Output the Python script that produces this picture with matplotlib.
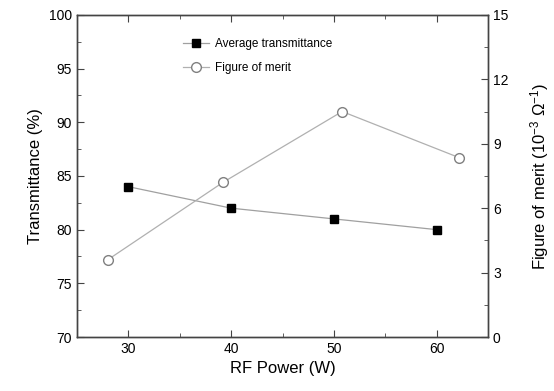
import matplotlib
matplotlib.use('Agg')
import matplotlib.pyplot as plt
from matplotlib.ticker import MultipleLocator

plt.rcParams['font.family'] = ['Liberation Sans', 'DejaVu Sans']
plt.rcParams['mathtext.fontset'] = 'custom'
plt.rcParams['mathtext.rm'] = 'Liberation Sans'
plt.rcParams['mathtext.it'] = 'Liberation Sans:italic'

# data
power_t = [30, 40, 50, 60]
transmittance = [84, 82, 81, 80]
power_f = [28, 39.2, 50.8, 62.2]
fom = [3.6, 7.2, 10.5, 8.35]

fig = plt.figure(figsize=(5.54, 3.91), dpi=100)
ax = fig.add_axes([0.139, 0.138, 0.742, 0.824])
ax2 = ax.twinx()

l1, = ax.plot(power_t, transmittance, color='#a0a0a0', lw=0.9, marker='s', ms=6,
              mfc='black', mec='black', label='Average transmittance')
l2, = ax2.plot(power_f, fom, color='#b0b0b0', lw=0.9, marker='o', ms=7,
               mfc='white', mec='#808080', mew=1.0, label='Figure of merit')

ax.set_xlim(25, 65)
ax.set_ylim(70, 100)
ax2.set_ylim(0, 15)
ax.xaxis.set_major_locator(MultipleLocator(10))
ax.xaxis.set_minor_locator(MultipleLocator(5))
ax.yaxis.set_major_locator(MultipleLocator(5))
ax.yaxis.set_minor_locator(MultipleLocator(2.5))
ax2.yaxis.set_major_locator(MultipleLocator(3))
ax2.yaxis.set_minor_locator(MultipleLocator(1.5))

ax.tick_params(which='both', direction='in', top=True, labelsize=10, color='#444444')
ax.tick_params(which='major', length=5)
ax.tick_params(which='minor', length=3)
ax2.tick_params(which='both', direction='in', labelsize=10, color='#444444')
ax2.tick_params(which='major', length=5)
ax2.tick_params(which='minor', length=3)
for a in (ax, ax2):
    for s in a.spines.values():
        s.set_color('#444444')
        s.set_linewidth(1.0)

ax.set_xlabel('RF Power (W)', fontsize=12)
ax.set_ylabel('Transmittance (%)', fontsize=12)
ax2.set_ylabel('Figure of merit (10$^{\\mathrm{-3}}$ \u03a9$^{\\mathrm{-1}}$)', fontsize=12, labelpad=14)

ax.legend(handles=[l1, l2], loc='upper left', bbox_to_anchor=(0.330, 0.902),
          bbox_transform=fig.transFigure, borderpad=0, borderaxespad=0,
          frameon=False, fontsize=8.5, handlelength=2.2, labelspacing=1.0,
          handletextpad=0.5)

fig.savefig('out.png', dpi=100)
